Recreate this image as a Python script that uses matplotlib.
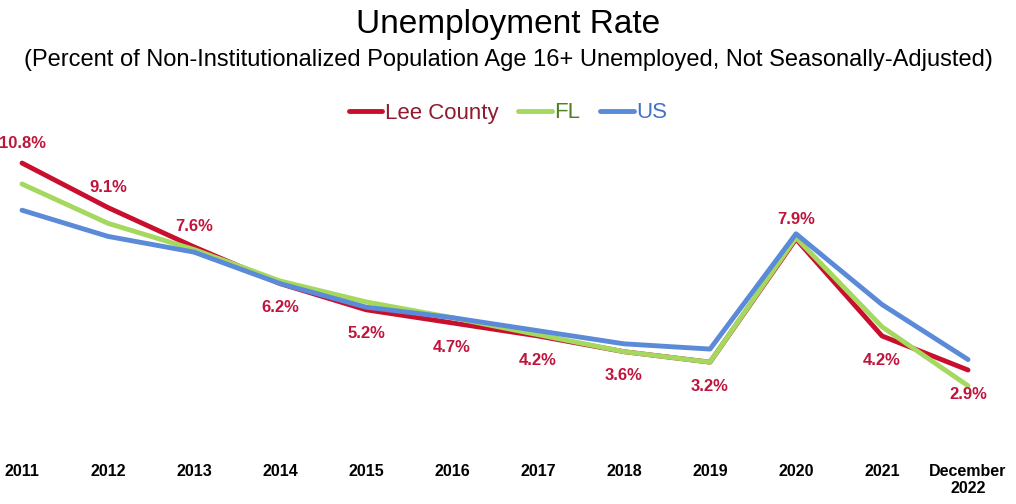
import matplotlib
matplotlib.use("Agg")
from matplotlib import pyplot as plt
from matplotlib import font_manager

# Datos
years = ['2011', '2012', '2013', '2014', '2015', '2016', '2017', '2018', '2019', '2020', '2021', 'December\n2022']
lee = [10.8, 9.1, 7.6, 6.2, 5.2, 4.7, 4.2, 3.6, 3.2, 7.9, 4.2, 2.9]
fl = [10.0, 8.5, 7.5, 6.3, 5.5, 4.9, 4.25, 3.6, 3.2, 7.95, 4.55, 2.3]
us = [9.0, 8.0, 7.4, 6.2, 5.3, 4.9, 4.4, 3.9, 3.7, 8.1, 5.4, 3.3]
label_above = [True, True, True, False, False, False, False, False, False, True, False, False]

# Fuentes
names = {f.name for f in font_manager.fontManager.ttflist}
narrow = 'Liberation Sans Narrow' if 'Liberation Sans Narrow' in names else 'Liberation Sans'
plt.rcParams['font.family'] = ['Liberation Sans', 'DejaVu Sans']

fig = plt.figure(figsize=(10.16, 5.04), dpi=100)
ax = fig.add_axes([0, 58 / 504, 1, 306 / 504])

# Orden de dibujo como en Excel: US arriba de todo
x = list(range(len(years)))
ax.plot(x, lee, color='#C8102E', lw=3.5, label='Lee County', zorder=1, solid_capstyle='round')
ax.plot(x, fl, color='#A5D85E', lw=3.5, label='FL', zorder=2, solid_capstyle='round')
ax.plot(x, us, color='#5B8AD8', lw=3.5, label='US', zorder=3, solid_capstyle='round')

# Etiquetas de datos de Lee County
for xi, v, up in zip(x, lee, label_above):
    ax.annotate(f'{v:.1f}%', (xi, v), xytext=(0, 9 if up else -12), textcoords='offset points',
                ha='center', va='bottom' if up else 'top', color='#C0143C',
                fontsize=12, fontweight='bold', family=[narrow, 'DejaVu Sans'])

ax.set_xlim(-22 / 86, 11 + 48 / 86)
ax.set_ylim(0, 306 / 26.2)
ax.set_xticks(x)
ax.set_xticklabels(years, fontsize=11.5, fontweight='bold', family=[narrow, 'DejaVu Sans'])
ax.tick_params(axis='x', length=0, pad=13)
ax.set_yticks([])
for s in ax.spines.values():
    s.set_visible(False)

fig.text(0.5, 1 - 24 / 504, 'Unemployment Rate', ha='center', va='center', fontsize=24)
fig.text(0.5, 1 - 60 / 504,
         '(Percent of Non-Institutionalized Population Age 16+ Unemployed, Not Seasonally-Adjusted)',
         ha='center', va='center', fontsize=17)

leg = fig.legend(loc='center', bbox_to_anchor=(0.5, 1 - 113 / 504), ncol=3, frameon=False,
                 fontsize=16, handlelength=1.5, handletextpad=0.12, columnspacing=0.9)
for t, c in zip(leg.get_texts(), ['#8E1B2E', '#4F7F23', '#4472C4']):
    t.set_color(c)

fig.savefig('out.png', dpi=100)
